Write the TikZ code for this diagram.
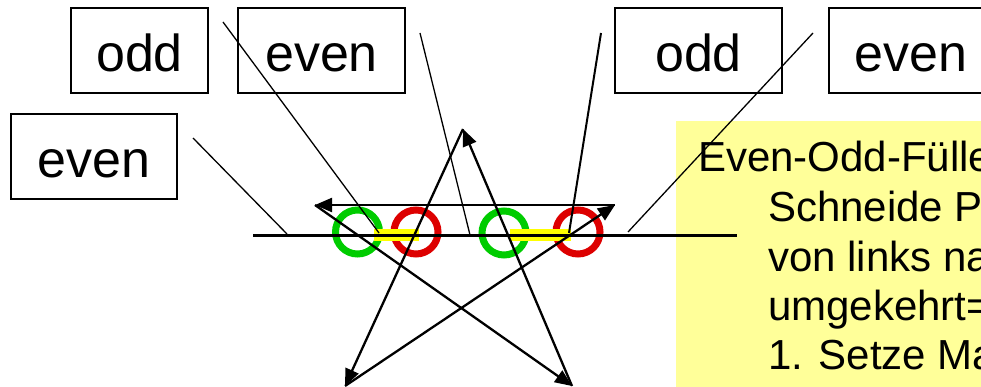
\documentclass[tikz,border=0pt]{standalone}
\usepackage{fontspec}
\setmainfont{Liberation Sans}
\usetikzlibrary{arrows.meta}
\definecolor{ringgreen}{RGB}{0,204,0}
\definecolor{ringred}{RGB}{221,0,0}
\definecolor{notefill}{RGB}{255,255,153}
\definecolor{baryellow}{RGB}{255,255,0}
\begin{document}
\begin{tikzpicture}[x=1pt,y=-1pt,
  labelbox/.style={draw=black,line width=1.3pt,rectangle,inner sep=0pt,minimum height=85pt,
    font=\fontsize{52}{60}\selectfont,text height=43pt,text depth=0pt},
  ring/.style={circle,minimum size=44pt,line width=7pt,inner sep=0pt},
  pointer/.style={line width=1.3pt},
  staredge/.style={line width=2.3pt,-{Triangle[length=17pt,width=14pt]}},
  notetext/.style={anchor=base west,inner sep=0pt,font=\fontsize{42}{50}\selectfont}]
\useasboundingbox (0,0) rectangle (981,387);
\clip (0,0) rectangle (981,387);
% note background
\fill[notefill] (676,121) rectangle (1000,400);
% label boxes
\node[labelbox,minimum width=137pt] (odda) at (139.5,50.5) {odd};
\node[labelbox,minimum width=167pt] (evena) at (321.5,50.5) {even};
\node[labelbox,minimum width=166pt] (evenl) at (94,156.5) {even};
\node[labelbox,minimum width=167pt] (oddb) at (698.5,50.5) {odd};
\node[labelbox,minimum width=164pt] (evenb) at (911,50.5) {even};
% rings
\node[ring,draw=ringgreen] (g1) at (357.5,232) {};
\node[ring,draw=ringred] (r1) at (416,232) {};
\node[ring,draw=ringgreen] (g2) at (504,233) {};
\node[ring,draw=ringred] (r2) at (578,232) {};
% yellow spans
\fill[baryellow] (374,229) rectangle (419,241);
\fill[baryellow] (510,229) rectangle (571,241);
% scan line
\coordinate (sl) at (253,235);
\coordinate (sr) at (737,235);
\draw[line width=3pt] (sl) -- (sr);
% star
\coordinate (T) at (463,129);
\coordinate (L) at (315,205);
\coordinate (R) at (615,205);
\coordinate (BL) at (345,386);
\coordinate (BR) at (572,386);
\draw[staredge] (R) -- (L);
\draw[staredge] (L) -- (BR);
\draw[staredge] (BR) -- (T);
\draw[staredge] (T) -- (BL);
\draw[staredge] (BL) -- (R);
% pointers
\coordinate (p1a) at (193,138); \coordinate (p1b) at (287,234);
\coordinate (p2a) at (223,22);  \coordinate (p2b) at (379,233);
\coordinate (p3a) at (420,33);  \coordinate (p3b) at (470,235);
\coordinate (p4a) at (601,33);  \coordinate (p4b) at (569,233);
\coordinate (p5a) at (813,33);  \coordinate (p5b) at (628,232);
\draw[pointer] (p1a) -- (p1b);
\draw[pointer] (p2a) -- (p2b);
\draw[pointer] (p3a) -- (p3b);
\draw[line width=2pt] (p4a) -- (p4b);
\draw[pointer] (p5a) -- (p5b);
% note text
\node[notetext] (n1) at (698,172) {Even-Odd-Fülle};
\node[notetext] (n2) at (768,222) {Schneide P};
\node[notetext] (n3) at (768,271) {von links na};
\node[notetext] (n4) at (768,320) {umgekehrt=};
\node[notetext] (n5) at (768,369) {1. Setze Ma};
\end{tikzpicture}
\end{document}
